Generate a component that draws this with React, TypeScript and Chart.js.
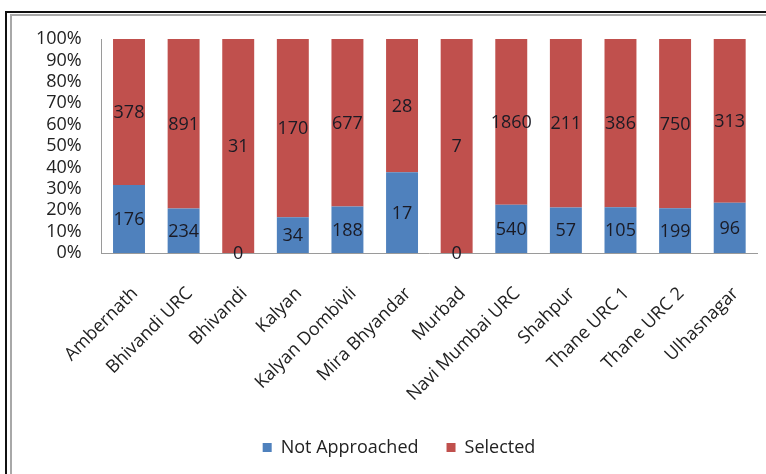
import React, { useEffect, useRef } from "react";
import { Chart, registerables } from "chart.js";

Chart.register(...registerables);

const categories = [
  "Ambernath",
  "Bhivandi URC",
  "Bhivandi",
  "Kalyan",
  "Kalyan Dombivli",
  "Mira Bhyandar",
  "Murbad",
  "Navi Mumbai URC",
  "Shahpur",
  "Thane URC 1",
  "Thane URC 2",
  "Ulhasnagar",
];
const notApproached = [176, 234, 0, 34, 188, 17, 0, 540, 57, 105, 199, 96];
const selected = [378, 891, 31, 170, 677, 28, 7, 1860, 211, 386, 750, 313];
const seriesNames = ["Not Approached", "Selected"];
const yTickStep = 10;
const yMax = 100;

const FONT = "Open Sans";
const FS = 18;
const BLUE = "#4F81BD";
const RED = "#C0504D";

const totals = categories.map((_, i) => notApproached[i] + selected[i]);
const pct = (arr: number[]) => arr.map((v, i) => (totals[i] ? (v / totals[i]) * 100 : 0));
const counts = [notApproached, selected];

const labelPlugin = {
  id: "segLabels",
  afterDatasetsDraw(chart: any) {
    const ctx = chart.ctx;
    ctx.save();
    ctx.font = `${FS}px "${FONT}"`;
    ctx.fillStyle = "#1a1a24";
    ctx.textAlign = "center";
    ctx.textBaseline = "middle";
    chart.data.datasets.forEach((ds: any, di: number) => {
      const meta = chart.getDatasetMeta(di);
      meta.data.forEach((bar: any, i: number) => {
        const y = (bar.y + bar.base) / 2;
        ctx.fillText(String(counts[di][i]), bar.x, y + 1);
      });
    });
    ctx.restore();
  },
};

const legendShift = {
  id: "legendShift",
  afterLayout(chart: any) {
    if (chart.legend) {
      chart.legend.left += 8;
      chart.legend.right += 8;
    }
  },
};

export default function App() {
  const ref = useRef<HTMLCanvasElement | null>(null);
  useEffect(() => {
    if (!ref.current) return;
    const chart = new Chart(ref.current, {
      type: "bar",
      data: {
        labels: categories,
        datasets: [
          { label: seriesNames[0], data: pct(notApproached), backgroundColor: BLUE },
          { label: seriesNames[1], data: pct(selected), backgroundColor: RED },
        ],
      },
      options: {
        responsive: false,
        animation: false,
        layout: { padding: { left: 25, right: 9, top: 39, bottom: 7.5 } },
        datasets: { bar: { categoryPercentage: 1, barPercentage: 0.585 } },
        plugins: {
          tooltip: { enabled: false },
          legend: {
            position: "bottom",
            labels: {
              boxWidth: 9,
              boxHeight: 9,
              padding: 28,
              color: "#222",
              font: { family: FONT, size: FS },
            },
          },
        },
        scales: {
          x: {
            stacked: true,
            grid: { display: false, drawTicks: false },
            border: { display: true, color: "#9a9a9a", width: 1 },
            ticks: {
              autoSkip: false,
              minRotation: 45,
              maxRotation: 45,
              padding: 30,
              labelOffset: 6,
              color: "#222",
              font: { family: FONT, size: FS },
            },
            afterFit: (s: any) => {
              s.height = 157.5;
              s.paddingLeft = 0;
              s.paddingRight = 0;
            },
          },
          y: {
            stacked: true,
            min: 0,
            max: yMax,
            grid: { display: false, drawTicks: false },
            border: { display: true, color: "#9a9a9a", width: 1 },
            ticks: {
              autoSkip: false,
              stepSize: yTickStep,
              padding: 20,
              color: "#222",
              font: { family: FONT, size: FS },
              callback: (v: any) => `${v}%`,
            },
            afterFit: (s: any) => {
              s.width = 76.7;
              s.paddingTop = 0;
              s.paddingBottom = 0;
            },
          },
        },
      },
      plugins: [labelPlugin, legendShift],
    });
    return () => chart.destroy();
  }, []);

  return (
    <div style={{ position: "absolute", left: 0, top: 0, width: 766, height: 474, background: "#fff", overflow: "hidden" }}>
      <canvas ref={ref} width={766} height={474} style={{ position: "absolute", left: 0, top: 0, width: 766, height: 474 }} />
      <div style={{ position: "absolute", left: 5, top: 11, right: -10, bottom: -10, borderLeft: "2px solid #111", borderTop: "2px solid #111" }} />
      <div style={{ position: "absolute", left: 10, top: 14, right: -10, bottom: -10, borderLeft: "2px solid #a8a8a8", borderTop: "2px solid #a8a8a8" }} />
    </div>
  );
}
